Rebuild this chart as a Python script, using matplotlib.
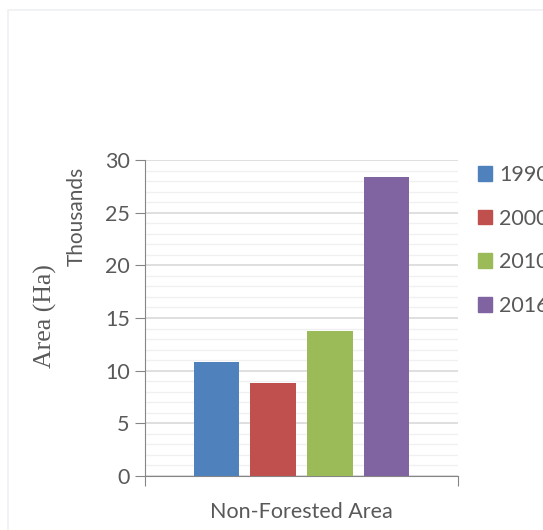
import matplotlib.pyplot as plt
import matplotlib.patches as mpatches
import numpy as np

years = ['1990', '2000', '2010', '2016']
area_k = [10.8, 8.8, 13.8, 28.4]   # thousands of Ha
colors = ['#4F81BD', '#C0504D', '#9BBB59', '#8064A2']
category = 'Non-Forested Area'

txt = '#595959'
sans = 'Lato'

fig = plt.figure(figsize=(5.43, 5.30), dpi=100)
ax = fig.add_axes([145/543, 54/530, 313/543, 316/530])

# bars side by side for the single category
bw = 0.144
step = 0.182
for i, (y, v, c) in enumerate(zip(years, area_k, colors)):
    ax.bar((i - 1.5) * step, v, width=bw, color=c, label=y, zorder=3)

ax.set_xlim(-0.5, 0.5)
ax.set_ylim(0, 30)
ax.set_yticks(np.arange(0, 31, 5))
ax.set_yticks(np.arange(0, 31, 1), minor=True)
ax.grid(True, which='major', axis='y', color='#D9D9D9', lw=1.2, zorder=0)
ax.grid(True, which='minor', axis='y', color='#F0F0F0', lw=1.0, zorder=0)
ax.tick_params(axis='y', which='major', length=7, color='#868686',
               labelsize=15.5, labelcolor=txt, pad=4)
ax.tick_params(axis='y', which='minor', length=0)
for lab in ax.get_yticklabels():
    lab.set_family(sans)

ax.set_xticks([-0.5, 0.5])
ax.set_xticklabels(['', ''])
ax.tick_params(axis='x', length=7, color='#868686')
ax.set_xlabel(category, fontsize=15.5, color=txt, family=sans, labelpad=8)

for s in ['top', 'right']:
    ax.spines[s].set_visible(False)
for s in ['left', 'bottom']:
    ax.spines[s].set_color('#868686')

fig.text(45/543, 1 - 316/530, 'Area (Ha)', rotation=90, ha='center', va='center',
         fontsize=18.5, color=txt, family='Liberation Serif')
fig.text(77/543, 1 - 216/530, 'Thousands', rotation=90, ha='center', va='center',
         fontsize=15, color=txt, family=sans)

# legend on the right, cut by the figure edge as in the source
handles = [mpatches.Patch(color=c) for c in colors]
leg = fig.legend(handles, years, loc='upper left', bbox_to_anchor=(478/543, 1 - 165/530),
                 frameon=False, borderpad=0, borderaxespad=0,
                 handlelength=0.67, handleheight=0.67, handletextpad=0.3,
                 labelspacing=1.1, prop={'family': sans, 'size': 15.5})
for t in leg.get_texts():
    t.set_color(txt)

# faint outer frame of the chart area
fig.patches.append(mpatches.Rectangle((8/543, -0.05), 1.0, 1 - 10/530 + 0.05,
                                      transform=fig.transFigure, fill=False,
                                      edgecolor='#EEF0F4', lw=1.2))

fig.savefig('out.png', dpi=100)
